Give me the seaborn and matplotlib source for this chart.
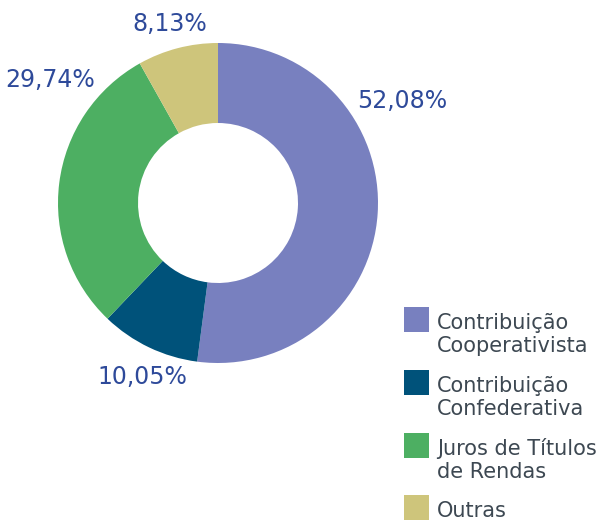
import matplotlib
matplotlib.use("Agg")
import matplotlib.pyplot as plt
from matplotlib.patches import Rectangle
import seaborn as sns

categories = [
    "Contribuição\nCooperativista",
    "Contribuição\nConfederativa",
    "Juros de Títulos\nde Rendas",
    "Outras",
]
values = [52.08, 10.05, 29.74, 8.13]
colors = ["#7880BF", "#00527A", "#4DAF62", "#CEC57B"]

# label anchor points around the ring, in units of the outer radius
label_pos = [(1.15, 0.64), (-0.47, -1.09), (-1.05, 0.77), (-0.30, 1.12)]

sns.set_theme(style="white")
plt.rcParams["font.family"] = ["DejaVu Sans"]

W, H = 603, 521
fig = plt.figure(figsize=(W / 100, H / 100), dpi=100)
fig.patch.set_facecolor("white")

# donut axes: centre (218, 203) px, outer radius 160 px
cx, cy, r = 218, 203, 160
ax = fig.add_axes([(cx - r) / W, (H - cy - r) / H, 2 * r / W, 2 * r / H])
ax.pie(values, colors=colors, startangle=90, counterclock=False, radius=1,
       wedgeprops=dict(width=0.5, linewidth=0))
ax.set_xlim(-1, 1)
ax.set_ylim(-1, 1)
ax.set_aspect("equal")
ax.axis("off")

label_color = "#2E4A9A"
for v, (x, y) in zip(values, label_pos):
    ax.text(x, y, f"{v:.2f}%".replace(".", ","), ha="center", va="center",
            fontsize=17, color=label_color, clip_on=False)

# legend drawn in pixel coordinates
lax = fig.add_axes([0, 0, 1, 1], zorder=-1)
lax.set_xlim(0, W)
lax.set_ylim(H, 0)
lax.axis("off")
text_color = "#3D4852"
row_top = [307, 370, 433, 495]
for name, col, top in zip(categories, colors, row_top):
    lax.add_patch(Rectangle((404, top), 25, 25, facecolor=col, edgecolor="none"))
    for i, line in enumerate(name.split("\n")):
        lax.text(437, top + 22 + 23 * i, line, ha="left", va="baseline",
                 fontsize=15, color=text_color)

fig.savefig("out.png", dpi=100)
